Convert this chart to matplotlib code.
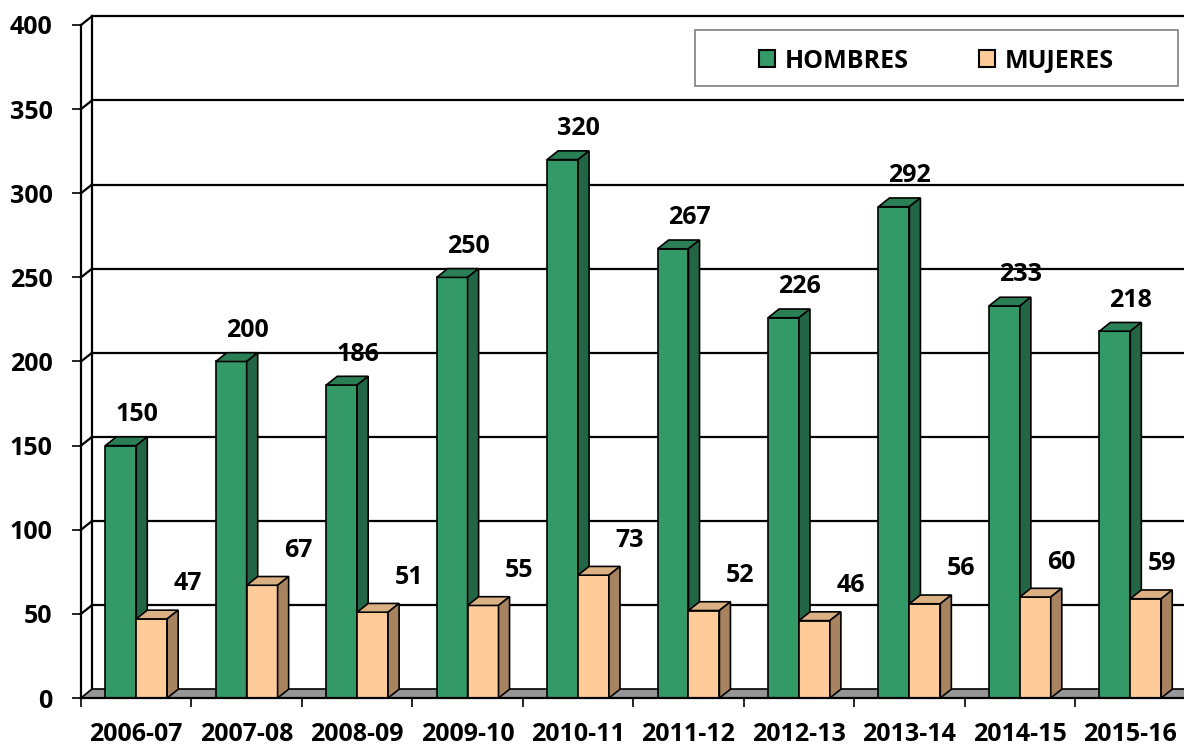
import matplotlib.pyplot as plt
from matplotlib.patches import Patch, Rectangle

plt.rcParams['font.family'] = ['Open Sans', 'DejaVu Sans']
plt.rcParams['font.weight'] = 'bold'

periods = ['2006-07', '2007-08', '2008-09', '2009-10', '2010-11',
           '2011-12', '2012-13', '2013-14', '2014-15', '2015-16']
hombres = [150, 200, 186, 250, 320, 267, 226, 292, 233, 218]
mujeres = [47, 67, 51, 55, 73, 52, 46, 56, 60, 59]
yticks = list(range(0, 401, 50))

# colores: frente, techo, lateral
green = ('#339966', '#2b7f55', '#236645')
peach = ('#ffcc99', '#dbb083', '#a8835f')

n = len(periods)
W = 0.28     # ancho de cada barra
DX = 0.1     # profundidad 3D (eje x)
DY = 5.2     # profundidad 3D (eje y)
FS = 18

fig = plt.figure(figsize=(11.84, 7.46), dpi=100)
ax = fig.add_axes([81/1184, 48/746, 1104.5/1184, 673/746])
ax.set_xlim(0, n)
ax.set_ylim(0, 400)

# pared del fondo y lateral
for v in yticks[1:]:
    ax.plot([DX, n + 0.5], [v + DY, v + DY], color='black', lw=1.6, zorder=1, clip_on=False)
    ax.plot([0, DX], [v, v + DY], color='black', lw=1.6, zorder=1, clip_on=False)
ax.plot([DX, DX], [DY, 400 + DY], color='black', lw=1.6, zorder=1, clip_on=False)

# suelo
ax.fill([0, n + 0.5, n + 0.5, DX], [0, 0, DY, DY], fc='#969696', ec='black',
        lw=1.2, zorder=2, clip_on=False)


def bar3d(x0, h, cols, z):
    ax.bar(x0, h, width=W, align='edge', color=cols[0], ec='black', lw=1.2, zorder=z)
    ax.fill([x0, x0 + W, x0 + W + DX, x0 + DX], [h, h, h + DY, h + DY],
            fc=cols[1], ec='black', lw=1.2, zorder=z, clip_on=False)
    ax.fill([x0 + W, x0 + W + DX, x0 + W + DX, x0 + W], [0, DY, h + DY, h],
            fc=cols[2], ec='black', lw=1.2, zorder=z, clip_on=False)


for i in range(n):
    xc = i + 0.5
    bar3d(xc - W, hombres[i], green, 3)
    bar3d(xc, mujeres[i], peach, 4)
    ax.annotate(str(hombres[i]), (xc - W / 2, hombres[i]), xytext=(16, 31),
                textcoords='offset pixels', ha='center', va='center',
                fontsize=FS, fontweight='bold', zorder=6)
    # las etiquetas de la derecha se acercan a la barra para no salirse
    off = 36 - max(0, i - 7) * 10
    ax.annotate(str(mujeres[i]), (xc + W / 2, mujeres[i]), xytext=(off, 35),
                textcoords='offset pixels', ha='center', va='center',
                fontsize=FS, fontweight='bold', zorder=6)

for s in ['top', 'right']:
    ax.spines[s].set_visible(False)
for s in ['left', 'bottom']:
    ax.spines[s].set_linewidth(1.6)
    ax.spines[s].set_zorder(5)

ax.set_yticks(yticks)
ax.set_yticklabels([str(v) for v in yticks], fontsize=FS, fontweight='bold')
ax.tick_params(axis='y', length=6.5, width=1.2, pad=14)
ax.set_xticks(range(n + 1))
ax.set_xticklabels([])
ax.set_xticks([i + 0.5 for i in range(n)], minor=True)
ax.set_xticklabels(periods, minor=True, fontsize=FS, fontweight='bold')
ax.tick_params(axis='x', which='major', length=6.5, width=1.2)
ax.tick_params(axis='x', which='minor', length=0, pad=17)

# leyenda
fig.patches.append(Rectangle((695/1184, 1 - 86/746), 483/1184, 56/746,
                             transform=fig.transFigure, fill=False,
                             ec='#7f7f7f', lw=1.2))
handles = [Patch(fc=green[0], ec='black', lw=1.5, label='HOMBRES'),
           Patch(fc=peach[0], ec='black', lw=1.5, label='MUJERES')]
fig.legend(handles=handles, loc='center', bbox_to_anchor=((695 + 241.5)/1184, 1 - 61/746),
           ncol=2, frameon=False, fontsize=FS, handlelength=0.65, handleheight=0.65,
           handletextpad=0.4, columnspacing=2.8)

fig.savefig('out.png', dpi=100)
